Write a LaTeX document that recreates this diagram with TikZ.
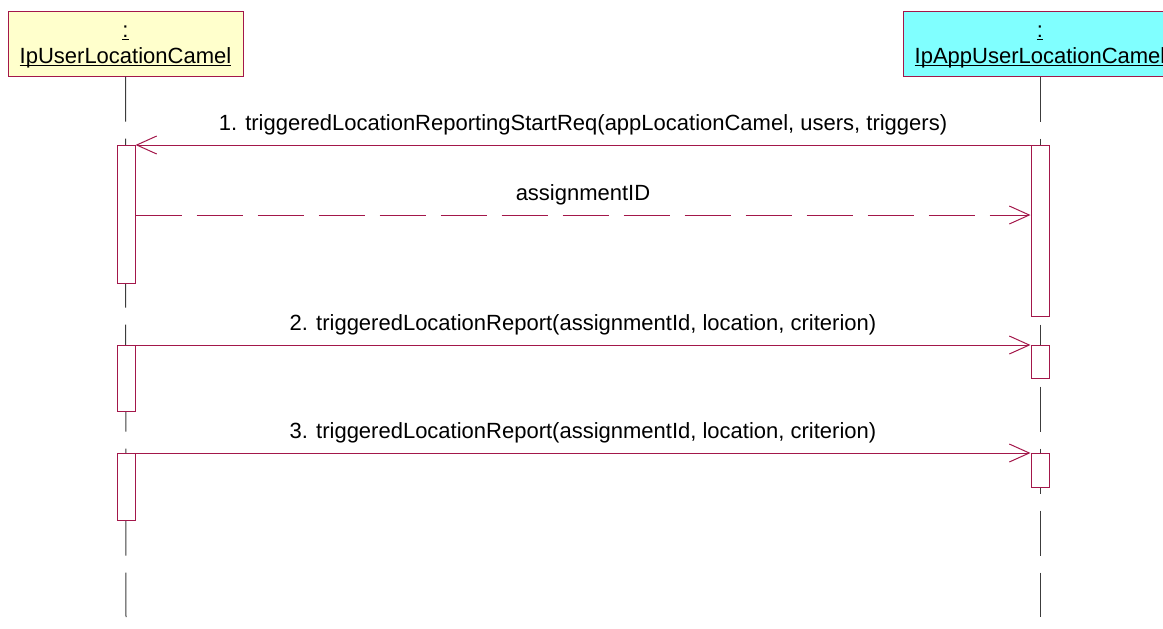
\documentclass[tikz,border=0pt]{standalone}
\usepackage{fontspec}
\setmainfont{Liberation Sans}
\usetikzlibrary{arrows.meta}
\definecolor{wine}{HTML}{A3174A}
\definecolor{lemon}{HTML}{FFFFCC}
\definecolor{aqua}{HTML}{80FFFF}
\definecolor{lifegray}{HTML}{3C3C3C}
\newcommand{\objname}[1]{\underline{\smash{#1}}}

\begin{document}
\begin{tikzpicture}[x=0.5pt,y=-0.5pt,every node/.style={text=black,font=\fontsize{11}{14.5}\selectfont,align=center},
 head/.style={draw=wine,line width=.5pt,minimum height=32.5pt,inner sep=0pt},
 headtxt/.style={font=\fontsize{11}{13}\selectfont},
 act/.style={draw=wine,fill=white,line width=.5pt,minimum width=9pt,inner sep=0pt,anchor=north},
 life/.style={lifegray,line width=.5pt,dash pattern=on 22.5pt off 8.5pt},
 msg/.style={wine,line width=.5pt,-{Straight Barb[length=10pt,width=9pt]}},
 reply/.style={msg,dash pattern=on 23pt off 7.5pt}]
\useasboundingbox (0,0) rectangle (1163,628);
\begin{scope}
\clip (0,0) rectangle (1163,628);
\node[head,fill=lemon,minimum width=117.5pt] (userloc) at (125.5,43.5) {};
\node[head,fill=aqua,minimum width=137pt] (appuserloc) at (1040,43.5) {};
\node[headtxt] (userloctxt) at ([yshift=-4.25pt]userloc.center) {\objname{:}\\\objname{IpUserLocationCamel}};
\node[headtxt] (appuserloctxt) at ([yshift=-4.25pt]appuserloc.center) {\objname{:}\\\objname{IpAppUserLocationCamel}};
\end{scope}
\coordinate (userend) at (126,617);
\coordinate (append) at (1040,617);
\draw[life] (userloc.south) -- (userend);
\draw[life] (appuserloc.south) -- (append);
\node[act,minimum height=69pt] (ua1) at (126,145) {};
\node[act,minimum height=33pt] (ua2) at (126,345) {};
\node[act,minimum height=33.5pt] (ua3) at (126,453) {};
\node[act,minimum height=85.5pt] (aa1) at (1040,145) {};
\node[act,minimum height=16.5pt] (aa2) at (1040,345) {};
\node[act,minimum height=17pt] (aa3) at (1040,453) {};
\coordinate (ret) at (0,215);
\draw[msg] (aa1.north west) -- node[above=1.5pt] {1. triggeredLocationReportingStartReq(appLocationCamel, users, triggers)} (ua1.north east);
\draw[reply] (ua1.east |- ret) -- node[above=1.5pt] {assignmentID} (aa1.west |- ret);
\draw[msg] (ua2.north east) -- node[above=1.5pt] {2. triggeredLocationReport(assignmentId, location, criterion)} (aa2.north west);
\draw[msg] (ua3.north east) -- node[above=1.5pt] {3. triggeredLocationReport(assignmentId, location, criterion)} (aa3.north west);
\end{tikzpicture}
\end{document}
